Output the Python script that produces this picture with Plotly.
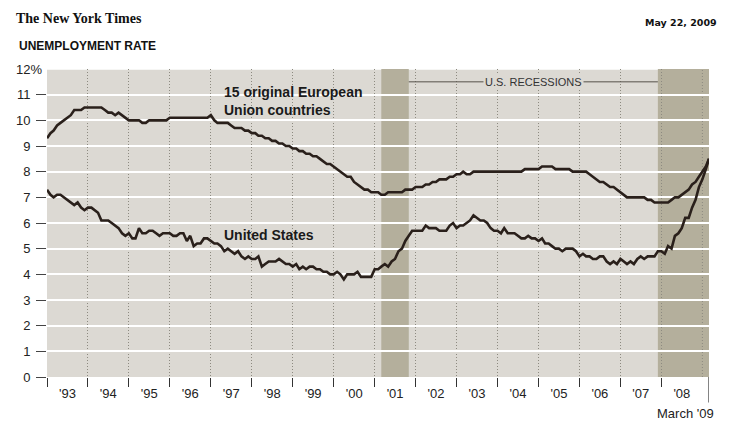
import pandas as pd
import plotly.graph_objects as go

# ---------------- data ----------------
months = pd.date_range("1993-01-01", "2009-03-01", freq="MS")

eu15 = [
    9.3, 9.5, 9.6, 9.8, 9.9, 10.0, 10.1, 10.2, 10.4, 10.4, 10.4, 10.5,   # 1993
    10.5, 10.5, 10.5, 10.5, 10.5, 10.4, 10.3, 10.3, 10.2, 10.3, 10.2, 10.1,  # 1994
    10.0, 10.0, 10.0, 10.0, 9.9, 9.9, 10.0, 10.0, 10.0, 10.0, 10.0, 10.0,  # 1995
    10.1, 10.1, 10.1, 10.1, 10.1, 10.1, 10.1, 10.1, 10.1, 10.1, 10.1, 10.1,  # 1996
    10.2, 10.0, 9.9, 9.9, 9.9, 9.9, 9.8, 9.7, 9.7, 9.7, 9.6, 9.6,   # 1997
    9.5, 9.5, 9.4, 9.4, 9.3, 9.3, 9.2, 9.2, 9.1, 9.1, 9.0, 9.0,     # 1998
    8.9, 8.9, 8.8, 8.8, 8.7, 8.7, 8.6, 8.6, 8.5, 8.4, 8.3, 8.3,     # 1999
    8.2, 8.1, 8.0, 7.9, 7.8, 7.8, 7.6, 7.5, 7.4, 7.3, 7.3, 7.2,     # 2000
    7.2, 7.2, 7.1, 7.1, 7.2, 7.2, 7.2, 7.2, 7.2, 7.3, 7.3, 7.3,     # 2001
    7.4, 7.4, 7.4, 7.5, 7.5, 7.6, 7.6, 7.7, 7.7, 7.7, 7.8, 7.8,     # 2002
    7.9, 7.9, 8.0, 7.9, 7.9, 8.0, 8.0, 8.0, 8.0, 8.0, 8.0, 8.0,     # 2003
    8.0, 8.0, 8.0, 8.0, 8.0, 8.0, 8.0, 8.0, 8.1, 8.1, 8.1, 8.1,     # 2004
    8.1, 8.2, 8.2, 8.2, 8.2, 8.1, 8.1, 8.1, 8.1, 8.1, 8.0, 8.0,     # 2005
    8.0, 8.0, 8.0, 7.9, 7.8, 7.7, 7.6, 7.6, 7.5, 7.4, 7.4, 7.3,     # 2006
    7.2, 7.1, 7.0, 7.0, 7.0, 7.0, 7.0, 7.0, 6.9, 6.9, 6.8, 6.8,     # 2007
    6.8, 6.8, 6.8, 6.9, 7.0, 7.0, 7.1, 7.2, 7.3, 7.5, 7.6, 7.8,     # 2008
    8.0, 8.2, 8.5,                                                  # 2009
]

us = [
    7.3, 7.1, 7.0, 7.1, 7.1, 7.0, 6.9, 6.8, 6.7, 6.8, 6.6, 6.5,     # 1993
    6.6, 6.6, 6.5, 6.4, 6.1, 6.1, 6.1, 6.0, 5.9, 5.8, 5.6, 5.5,     # 1994
    5.6, 5.4, 5.4, 5.8, 5.6, 5.6, 5.7, 5.7, 5.6, 5.5, 5.6, 5.6,     # 1995
    5.6, 5.5, 5.5, 5.6, 5.6, 5.3, 5.5, 5.1, 5.2, 5.2, 5.4, 5.4,     # 1996
    5.3, 5.2, 5.2, 5.1, 4.9, 5.0, 4.9, 4.8, 4.9, 4.7, 4.6, 4.7,     # 1997
    4.6, 4.6, 4.7, 4.3, 4.4, 4.5, 4.5, 4.5, 4.6, 4.5, 4.4, 4.4,     # 1998
    4.3, 4.4, 4.2, 4.3, 4.2, 4.3, 4.3, 4.2, 4.2, 4.1, 4.1, 4.0,     # 1999
    4.0, 4.1, 4.0, 3.8, 4.0, 4.0, 4.0, 4.1, 3.9, 3.9, 3.9, 3.9,     # 2000
    4.2, 4.2, 4.3, 4.4, 4.3, 4.5, 4.6, 4.9, 5.0, 5.3, 5.5, 5.7,     # 2001
    5.7, 5.7, 5.7, 5.9, 5.8, 5.8, 5.8, 5.7, 5.7, 5.7, 5.9, 6.0,     # 2002
    5.8, 5.9, 5.9, 6.0, 6.1, 6.3, 6.2, 6.1, 6.1, 6.0, 5.8, 5.7,     # 2003
    5.7, 5.6, 5.8, 5.6, 5.6, 5.6, 5.5, 5.4, 5.4, 5.5, 5.4, 5.4,     # 2004
    5.3, 5.4, 5.2, 5.2, 5.1, 5.0, 5.0, 4.9, 5.0, 5.0, 5.0, 4.9,     # 2005
    4.7, 4.8, 4.7, 4.7, 4.6, 4.6, 4.7, 4.7, 4.5, 4.4, 4.5, 4.4,     # 2006
    4.6, 4.5, 4.4, 4.5, 4.4, 4.6, 4.7, 4.6, 4.7, 4.7, 4.7, 4.9,     # 2007
    4.9, 4.8, 5.1, 5.0, 5.5, 5.6, 5.8, 6.2, 6.2, 6.6, 6.9, 7.4,     # 2008
    7.7, 8.1, 8.5,                                                  # 2009
]

years = list(range(1993, 2009))
year_labels = ["'%02d" % (y % 100) for y in years]
y_ticks = list(range(0, 12))
y_labels = [str(v) for v in y_ticks]
y_top, y_top_label = 12, "12%"
recessions = [("2001-03-01", "2001-11-01"), ("2007-12-01", "2009-03-01")]

# ---------------- style ----------------
LINE = "#2a201b"
BG = "#dcd9d3"
REC = "#b4af9c"
DOT = "#8d8a80"
FONT = "Liberation Sans"

fig = go.Figure()
for vals in (eu15, us):
    fig.add_trace(go.Scatter(x=months, y=vals, mode="lines",
                             line=dict(color=LINE, width=2.6),
                             hoverinfo="skip", showlegend=False))

shapes = []
for s, e in recessions:
    shapes.append(dict(type="rect", xref="x", yref="y", x0=s, x1=e, y0=0, y1=y_top,
                       fillcolor=REC, line=dict(width=0), layer="below"))
# dotted gridline at start of 2009 (inside shaded area)
shapes.append(dict(type="line", xref="x", yref="y", x0="2009-01-01", x1="2009-01-01",
                   y0=0, y1=y_top, line=dict(color=DOT, width=1, dash="1px,2px"), layer="below"))
# top white gridline
shapes.append(dict(type="line", xref="paper", yref="y", x0=0, x1=1, y0=y_top, y1=y_top,
                   line=dict(color="white", width=1.6), layer="below"))
# recession bracket line
shapes.append(dict(type="line", xref="x", yref="y", x0=recessions[0][1], x1=recessions[1][0],
                   y0=11.5, y1=11.5, line=dict(color="#55514a", width=1)))
# long tick at March '09
shapes.append(dict(type="line", xref="x", yref="paper", x0=months[-1], x1=months[-1],
                   y0=0, y1=-0.083, line=dict(color="#333333", width=1.2)))

annotations = [
    dict(text="<b>The New York Times</b>", xref="paper", yref="paper", x=-0.05, y=1.163,
         xanchor="left", yanchor="middle", showarrow=False,
         font=dict(family="Liberation Serif", size=14, color="#111")),
    dict(text="<b>May 22, 2009</b>", xref="paper", yref="paper", x=1.015, y=1.152,
         xanchor="right", yanchor="middle", showarrow=False,
         font=dict(family="DejaVu Sans", size=9.5, color="#111")),
    dict(text="<b>UNEMPLOYMENT RATE</b>", xref="paper", yref="paper", x=-0.0455, y=1.075,
         xanchor="left", yanchor="middle", showarrow=False,
         font=dict(family=FONT, size=12, color="#111")),
    dict(text=y_top_label, xref="paper", yref="y", x=-0.005, y=y_top,
         xanchor="right", yanchor="middle", showarrow=False,
         font=dict(family=FONT, size=13, color="#222")),
    dict(text="<b>15 original European<br>Union countries</b>", xref="x", yref="y",
         x="1997-04-08", y=10.75, xanchor="left", yanchor="middle", align="left",
         showarrow=False, font=dict(family=FONT, size=14, color="#1a1a1a")),
    dict(text="<b>United States</b>", xref="x", yref="y",
         x="1997-04-08", y=5.53, xanchor="left", yanchor="middle", align="left",
         showarrow=False, font=dict(family=FONT, size=14, color="#1a1a1a")),
    dict(text="U.S. RECESSIONS", xref="x", yref="y", x="2004-11-20", y=11.5,
         xanchor="center", yanchor="middle", showarrow=False, bgcolor=BG, borderpad=1,
         font=dict(family=FONT, size=11, color="#333")),
    dict(text="March '09", xref="paper", yref="paper", x=1.011, y=-0.117,
         xanchor="right", yanchor="middle", showarrow=False,
         font=dict(family=FONT, size=13, color="#222")),
]

# the page adds an 8px body margin, so the figure is 8px smaller and margins compensate
fig.update_layout(
    width=722, height=422,
    margin=dict(l=39, r=21, t=61, b=53, autoexpand=False),
    paper_bgcolor="white", plot_bgcolor=BG,
    font=dict(family=FONT, size=13, color="#222"),
    shapes=shapes, annotations=annotations,
    xaxis=dict(
        type="date", range=[months[0], months[-1]], automargin=False,
        tickmode="array",
        tickvals=[f"{y}-07-02" for y in years], ticktext=year_labels,
        ticks="", showgrid=False, zeroline=False, showline=False,
        tickfont=dict(size=13, color="#222"), ticklabelstandoff=7,
        minor=dict(tickmode="array", tickvals=[f"{y}-01-01" for y in years],
                   ticks="outside", ticklen=9, tickcolor="#333", tickwidth=1,
                   showgrid=True, gridcolor=DOT, griddash="1px,2px", gridwidth=1),
    ),
    yaxis=dict(
        range=[0, y_top], tickmode="array", tickvals=y_ticks, ticktext=y_labels,
        automargin=False,
        ticks="outside", ticklen=10, tickcolor="#444", tickwidth=1,
        showgrid=True, gridcolor="white", gridwidth=1.6,
        zeroline=False, showline=False, ticklabelstandoff=3,
        tickfont=dict(size=13, color="#222"),
    ),
)

fig.write_html("out.html")
